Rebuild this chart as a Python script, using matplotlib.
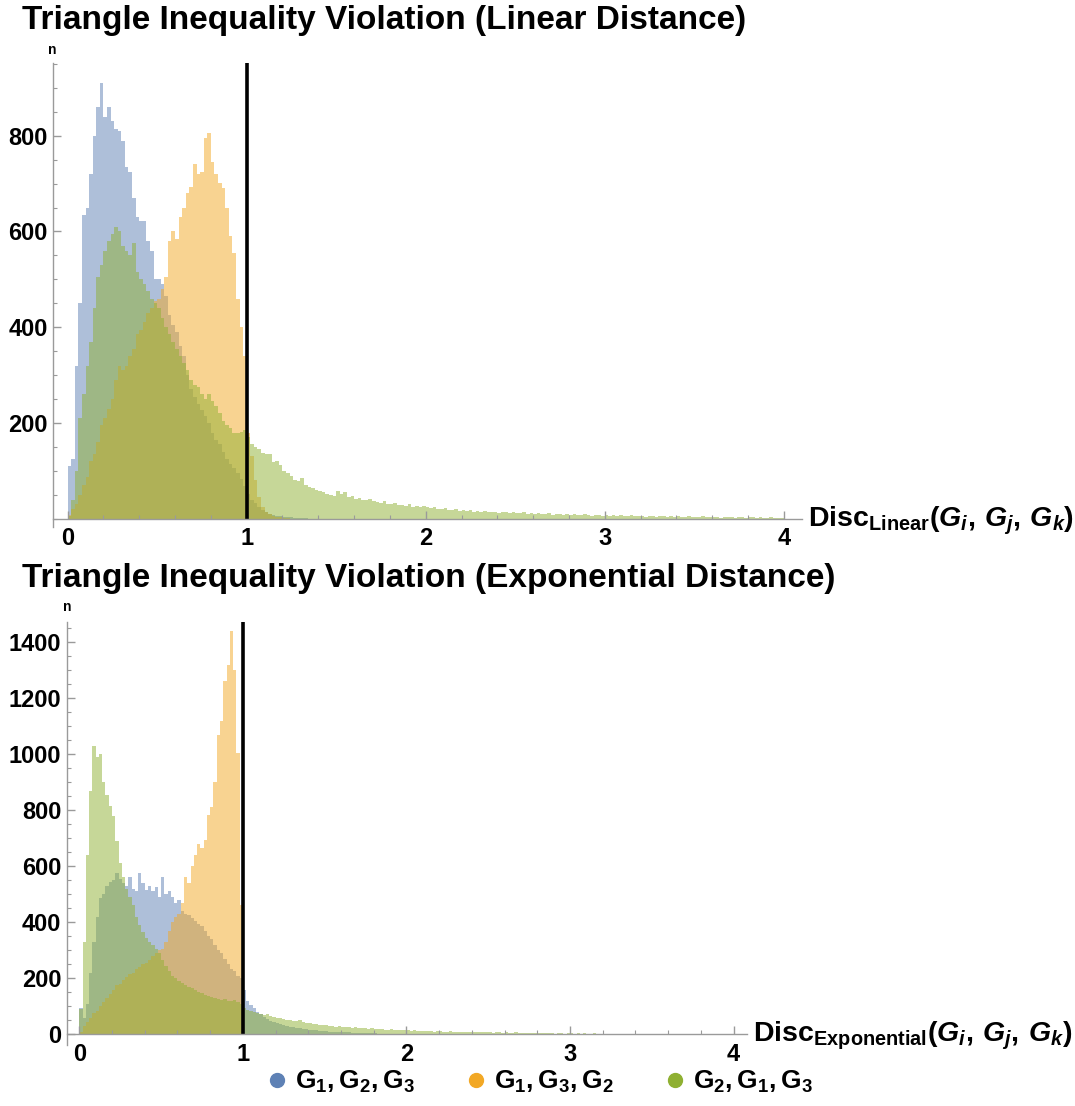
import numpy as np
import matplotlib.pyplot as plt
import matplotlib.font_manager as fm
from matplotlib.lines import Line2D
from matplotlib.ticker import MultipleLocator

# keep the narrow variant out of the lookup so bold text uses the regular width face
fm.fontManager.ttflist = [f for f in fm.fontManager.ttflist
                          if 'narrow' not in f.fname.lower()]

plt.rcParams['font.family'] = 'Liberation Sans'
plt.rcParams['font.weight'] = 'bold'
plt.rcParams['mathtext.fontset'] = 'custom'
plt.rcParams['mathtext.rm'] = 'Liberation Sans:bold'
plt.rcParams['mathtext.bf'] = 'Liberation Sans:bold'
plt.rcParams['mathtext.it'] = 'Liberation Sans:italic:bold'

BIN = 0.02  # histogram bin width, bins start at 0

# ---- linear distance: counts per bin ----
blue_lin = [110, 125, 320, 450, 635, 650, 720, 800, 860, 910,
            840, 860, 830, 815, 810, 790, 735, 725, 670, 630,
            622, 622, 580, 560, 500, 500, 490, 465, 425, 405,
            390, 360, 340, 300, 270, 255, 240, 228, 215, 200,
            180, 165, 155, 140, 125, 115, 105, 95, 82, 68,
            52, 40, 32, 25, 19, 14, 10, 8, 6, 5,
            4, 3, 3, 2, 2, 1, 1]
orange_lin = [8, 20, 30, 50, 70, 87, 120, 135, 160, 195,
              210, 230, 250, 290, 320, 310, 320, 340, 355, 385,
              395, 410, 430, 440, 455, 460, 480, 505, 580, 600,
              585, 630, 650, 680, 692, 740, 720, 725, 795, 805,
              745, 720, 702, 690, 650, 590, 555, 460, 400, 340,
              180, 130, 80, 45, 25, 15, 10, 6, 4, 3,
              2, 1]
green_lin = [5, 40, 100, 210, 260, 320, 370, 440, 505, 530,
             560, 580, 595, 610, 600, 570, 560, 550, 575, 515,
             500, 490, 475, 460, 450, 440, 420, 400, 385, 370,
             355, 340, 325, 310, 290, 280, 275, 260, 250, 260,
             245, 235, 220, 205, 195, 190, 180, 178, 182, 185,
             170, 157, 150, 145, 138, 135, 136, 118, 120, 112,
             100, 95, 90, 80, 78, 84, 70, 66, 64, 60,
             58, 55, 52, 50, 48, 57, 52, 55, 45, 48,
             42, 44, 40, 38, 41, 36, 35, 33, 37, 31,
             30, 32, 28, 29, 27, 30, 25, 26, 24, 27,
             24, 22, 25, 21, 20, 23, 19, 18, 20, 17,
             19, 16, 18, 15, 17, 14, 16, 13, 15, 14,
             12, 14, 13, 11, 13, 12, 11, 13, 10, 12,
             9, 11, 10, 9, 11, 8, 10, 9, 8, 10,
             7, 9, 8, 7, 9, 8, 6, 8, 7, 6,
             8, 6, 7, 5, 7, 6, 5, 7, 6, 5,
             6, 4, 6, 5, 4, 6, 5, 4, 5, 3,
             5, 4, 4, 5, 3, 4, 3, 5, 3, 4,
             3, 4, 2, 4, 3, 3, 2, 4, 3, 2,
             3, 3, 2, 3, 2, 2, 3, 2, 2, 1]

# ---- exponential distance: counts per bin ----
blue_exp = [95, 60, 110, 220, 330, 420, 485, 500, 530, 545,
            550, 575, 555, 540, 530, 560, 520, 510, 575, 540,
            515, 530, 510, 525, 490, 560, 500, 510, 490, 470,
            480, 440, 430, 425, 415, 405, 395, 385, 370, 350,
            340, 320, 300, 290, 270, 250, 235, 225, 210, 200,
            160, 120, 105, 95, 80, 72, 62, 55, 48, 45,
            40, 36, 33, 30, 28, 25, 23, 21, 20, 18,
            17, 15, 14, 13, 12, 11, 10, 10, 9, 8,
            8, 7, 7, 6, 6, 5, 5, 5, 4, 4,
            4, 3, 3, 3, 3, 2, 2, 2, 2, 1]
orange_exp = [10, 30, 45, 60, 75, 85, 100, 115, 130, 145,
              160, 175, 180, 195, 205, 215, 220, 235, 240, 250,
              255, 265, 280, 290, 300, 305, 330, 370, 400, 420,
              430, 470, 560, 540, 600, 640, 680, 665, 694, 783,
              810, 900, 1070, 1120, 1260, 1320, 1440, 1300, 1005, 462]
green_exp = [90, 330, 640, 870, 1030, 990, 1000, 900, 855, 815,
             780, 690, 610, 560, 520, 490, 460, 420, 390, 365,
             345, 330, 320, 305, 290, 265, 245, 225, 210, 200,
             190, 185, 175, 170, 165, 160, 150, 148, 140, 138,
             132, 128, 125, 122, 125, 120, 118, 122, 115, 110,
             95, 88, 85, 80, 78, 74, 70, 72, 66, 62,
             60, 57, 55, 52, 50, 48, 46, 50, 44, 42,
             40, 38, 37, 35, 34, 33, 30, 31, 28, 29,
             26, 27, 25, 24, 26, 22, 23, 21, 20, 22,
             19, 18, 20, 17, 16, 18, 15, 16, 14, 15,
             14, 13, 15, 12, 13, 11, 12, 13, 10, 11,
             12, 9, 10, 11, 9, 8, 10, 9, 8, 9,
             7, 8, 9, 7, 8, 7, 6, 8, 7, 6,
             7, 5, 6, 7, 5, 6, 5, 6, 4, 5,
             6, 4, 5, 4, 5, 3, 4, 5, 3, 4,
             4, 3, 4, 3, 4, 3, 3, 4, 2, 3,
             3, 2, 3, 3, 2, 3, 2, 2, 3, 2,
             2, 3, 2, 1, 2, 2, 1, 2, 2, 1,
             2, 1, 1, 2, 1, 1, 1, 2, 1, 1,
             1, 0, 1, 1, 0, 1, 0, 0, 1, 0]

labels = [r'$\mathrm{G_1, G_2, G_3}$', r'$\mathrm{G_1, G_3, G_2}$',
          r'$\mathrm{G_2, G_1, G_3}$']
colors = ['#5E81B5', '#F2A825', '#8FB032']
W, H = 1075, 1106

fig = plt.figure(figsize=(W / 100, H / 100), dpi=100)


def panel(rect, series, xlim, ylim, yticks, title, title_y, xlabel, xlab_pos, n_pos):
    ax = fig.add_axes(rect)
    for counts, col in zip(series, colors):
        edges = np.arange(len(counts) + 1) * BIN
        ax.stairs(counts, edges, fill=True, color=col, alpha=0.5, lw=0)
    ax.plot([1, 1], [0, ylim[1]], color='k', lw=2.6, solid_capstyle='butt')
    ax.set_xlim(*xlim)
    ax.set_ylim(*ylim)
    for s in ['top', 'right']:
        ax.spines[s].set_visible(False)
    ax.spines['bottom'].set_position(('data', 0))
    for s in ['left', 'bottom']:
        ax.spines[s].set_color('#9a9a9a')
        ax.spines[s].set_linewidth(1.0)
    ax.set_xticks([0, 1, 2, 3, 4])
    ax.xaxis.set_minor_locator(MultipleLocator(0.2))
    ax.set_yticks(yticks)
    ax.yaxis.set_minor_locator(MultipleLocator(50))
    ax.tick_params(which='both', direction='in', color='#9a9a9a', labelsize=17)
    ax.tick_params(which='major', length=6, width=1)
    ax.tick_params(which='minor', length=3, width=0.8)
    ax.tick_params(axis='x', pad=6)
    ax.tick_params(axis='y', pad=4)
    fig.text(22 / W, 1 - title_y / H, title, fontsize=24, fontweight='bold',
             ha='left', va='center')
    fig.text(xlab_pos[0] / W, 1 - xlab_pos[1] / H, xlabel, fontsize=20.5,
             ha='left', va='center')
    fig.text(n_pos[0] / W, 1 - n_pos[1] / H, 'n', fontsize=10, ha='center', va='center')
    return ax


panel([53.3 / W, 1 - 527.3 / H, 748.4 / W, 464.3 / H],
      [blue_lin, orange_lin, green_lin], (-0.08, 4.1), (-18, 952),
      [200, 400, 600, 800],
      'Triangle Inequality Violation (Linear Distance)', 20,
      r'$\mathrm{Disc}_{\mathrm{Linear}}(G_i,\, G_j,\, G_k)$', (808, 521), (52, 50))

panel([66.7 / W, 1 - 1045 / H, 680 / W, 423.3 / H],
      [blue_exp, orange_exp, green_exp], (-0.077, 4.08), (-38, 1473),
      list(range(0, 1401, 200)),
      'Triangle Inequality Violation (Exponential Distance)', 578,
      r'$\mathrm{Disc}_{\mathrm{Exponential}}(G_i,\, G_j,\, G_k)$', (753, 1036), (67, 607))

handles = [Line2D([], [], ls='', marker='o', markersize=10, color=c) for c in colors]
fig.legend(handles, labels, loc='center', bbox_to_anchor=(0.502, 1 - 1082 / H),
           ncol=3, frameon=False, fontsize=19, handletextpad=0.3,
           columnspacing=1.9, handlelength=0.8)

plt.savefig('out.png', dpi=100)
plt.close(fig)
